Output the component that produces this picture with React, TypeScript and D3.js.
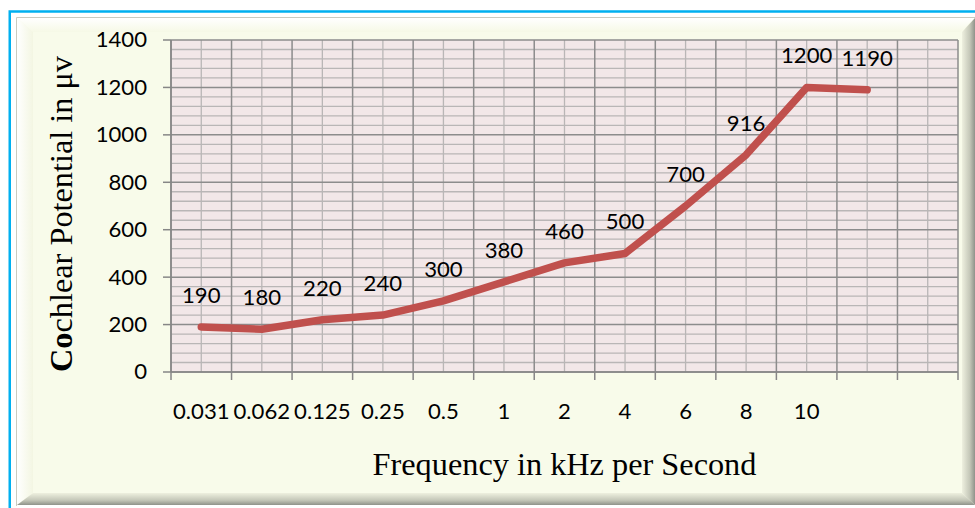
import React from "react";
import * as d3 from "d3";

const categories = ["0.031", "0.062", "0.125", "0.25", "0.5", "1", "2", "4", "6", "8", "10", "", ""];
const values = [190, 180, 220, 240, 300, 380, 460, 500, 700, 916, 1200, 1190];
const yTicks = [0, 200, 400, 600, 800, 1000, 1200, 1400];
const yTitleBold = "Co";
const yTitleRest = "chlear Potential in μv";
const xTitle = "Frequency in kHz per Second";

const W = 975;
const H = 508;
const plot = { left: 171, right: 958, top: 40, bottom: 372 };

const sans = "Lato, 'Open Sans', sans-serif";
const serif = "'Liberation Serif', 'Times New Roman', serif";

function Label(props: { x: number; y: number; anchor: "start" | "middle" | "end"; dy?: string; children: React.ReactNode }) {
  return (
    <text
      transform={`translate(${props.x},${props.y}) scale(1.08,1)`}
      dy={props.dy}
      textAnchor={props.anchor}
      fontFamily={sans}
      fontSize={20.5}
      fill="#000"
    >
      {props.children}
    </text>
  );
}

export default function App() {
  const keys = categories.map((_, i) => String(i));
  const x = d3.scaleBand().domain(keys).range([plot.left, plot.right]);
  const y = d3.scaleLinear().domain([0, 1400]).range([plot.bottom, plot.top]);
  const bw = x.bandwidth();
  const cx = (i: number) => (x(String(i)) as number) + bw / 2;

  const minorY = d3.range(0, 1401, 40).filter((v) => v % 200 !== 0);
  const boundaries = keys.map((k) => x(k) as number).concat([plot.right]);
  const centers = keys.map((_, i) => cx(i));

  const line = d3
    .line<number>()
    .x((_, i) => cx(i))
    .y((d) => y(d));

  return (
    <svg
      width={W}
      height={H}
      style={{ position: "absolute", left: 0, top: 0, background: "#ffffff" }}
    >
      <defs>
        <linearGradient id="bevB" x1="0" y1="0" x2="0" y2="1">
          <stop offset="0" stopColor="#eef0df" />
          <stop offset="0.6" stopColor="#c4c7b8" />
          <stop offset="1" stopColor="#8f928a" />
        </linearGradient>
        <linearGradient id="bevR" x1="0" y1="0" x2="1" y2="0">
          <stop offset="0" stopColor="#eef0df" />
          <stop offset="0.6" stopColor="#c4c7b8" />
          <stop offset="1" stopColor="#8f928a" />
        </linearGradient>
        <linearGradient id="bevT" x1="0" y1="0" x2="0" y2="1">
          <stop offset="0" stopColor="#ffffff" />
          <stop offset="1" stopColor="#f6f9e6" />
        </linearGradient>
        <linearGradient id="bevL" x1="0" y1="0" x2="1" y2="0">
          <stop offset="0" stopColor="#ffffff" />
          <stop offset="1" stopColor="#f3f6e2" />
        </linearGradient>
      </defs>

      {/* outer blue border */}
      <rect x={9.75} y={11.5} width={W + 10} height={H + 10} fill="#ffffff" stroke="#00b0f0" strokeWidth={2.5} />

      {/* frame with bevels */}
      <rect x={17} y={18} width={958} height={487} fill="#f8fbea" />
      <polygon points={`17,18 975,18 960,32 33,32`} fill="url(#bevT)" />
      <polygon points={`17,18 33,32 33,493 17,505`} fill="url(#bevL)" />
      <polygon points={`17,505 33,493 962,493 975,505`} fill="url(#bevB)" />
      <polygon points={`975,18 962,32 962,493 975,505`} fill="url(#bevR)" />
      <rect x={33} y={32} width={929} height={461} fill="#f8fbea" />
      <line x1={16.5} y1={17.5} x2={975} y2={17.5} stroke="#c9cbc0" strokeWidth={1} />
      <line x1={16.5} y1={17.5} x2={16.5} y2={506} stroke="#c9cbc0" strokeWidth={1} />

      {/* plot area */}
      <rect x={plot.left} y={plot.top} width={plot.right - plot.left} height={plot.bottom - plot.top} fill="#f2e7e8" />

      {/* minor gridlines */}
      {minorY.map((v) => (
        <line key={"mh" + v} x1={plot.left} x2={plot.right} y1={y(v)} y2={y(v)} stroke="#b9b6b6" strokeWidth={1.3} />
      ))}
      {centers.map((c, i) => (
        <line key={"mv" + i} x1={c} x2={c} y1={plot.top} y2={plot.bottom} stroke="#b9b6b6" strokeWidth={1.3} />
      ))}
      {/* major gridlines */}
      {yTicks.map((v) => (
        <line key={"h" + v} x1={plot.left} x2={plot.right} y1={y(v)} y2={y(v)} stroke="#8c8c8c" strokeWidth={1.5} />
      ))}
      {boundaries.map((b, i) => (
        <line key={"v" + i} x1={b} x2={b} y1={plot.top} y2={plot.bottom} stroke="#8c8c8c" strokeWidth={1.5} />
      ))}

      {/* axes */}
      <line x1={plot.left} x2={plot.left} y1={plot.top} y2={plot.bottom} stroke="#868686" strokeWidth={1.5} />
      <line x1={plot.left} x2={plot.right} y1={plot.bottom} y2={plot.bottom} stroke="#868686" strokeWidth={1.5} />
      {yTicks.map((v) => (
        <line key={"yt" + v} x1={plot.left - 8} x2={plot.left} y1={y(v)} y2={y(v)} stroke="#868686" strokeWidth={1.5} />
      ))}
      {boundaries.map((b, i) => (
        <line key={"xt" + i} x1={b} x2={b} y1={plot.bottom} y2={plot.bottom + 8} stroke="#868686" strokeWidth={1.5} />
      ))}

      {/* y tick labels */}
      {yTicks.map((v) => (
        <Label key={"yl" + v} x={147} y={y(v)} dy="0.36em" anchor="end">
          {v}
        </Label>
      ))}
      {/* x tick labels */}
      {categories.map((c, i) => (
        <Label key={"xl" + i} x={cx(i)} y={419} anchor="middle">
          {c}
        </Label>
      ))}

      {/* line */}
      <path d={line(values) as string} fill="none" stroke="#c0504d" strokeWidth={7.5} strokeLinejoin="round" strokeLinecap="round" />

      {/* data labels */}
      {values.map((v, i) => (
        <Label key={"dl" + i} x={cx(i)} y={y(v) - 24} anchor="middle">
          {v}
        </Label>
      ))}

      {/* axis titles */}
      <text
        transform={`translate(72,214) rotate(-90)`}
        textAnchor="middle"
        fontFamily={serif}
        fontSize={32.3}
        fill="#000"
      >
        <tspan fontWeight="bold">{yTitleBold}</tspan>
        {yTitleRest}
      </text>
      <text x={564.5} y={475} textAnchor="middle" fontFamily={serif} fontSize={32.3} fill="#000">
        {xTitle}
      </text>
    </svg>
  );
}
